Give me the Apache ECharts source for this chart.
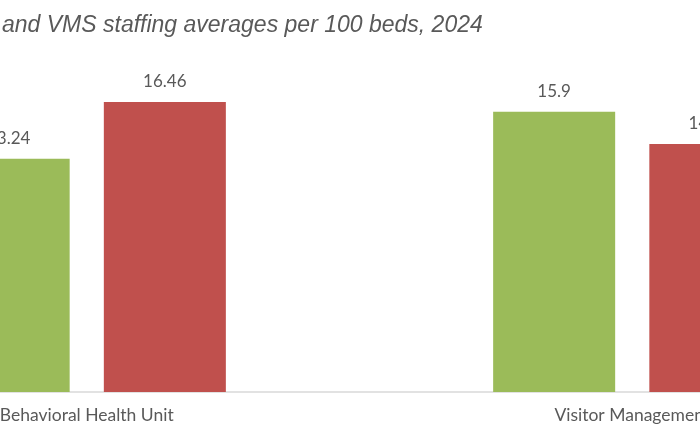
<!DOCTYPE html>
<html>
<head>
<meta charset="utf-8">
<script src="https://cdn.jsdelivr.net/npm/echarts@6/dist/echarts.min.js"></script>
<style>
html,body{margin:0;padding:0;width:700px;height:441px;overflow:hidden;background:#fff;position:relative;}
#c{position:absolute;left:-186px;top:0;width:1091px;height:441px;}
</style>
</head>
<body>
<div id="c"></div>
<script>
const titleText = "and VMS staffing averages per 100 beds, 2024";
const categories = ["Behavioral Health Unit", "Visitor Management"];
const seriesNames = ["Series 1", "Series 2"];
const greenValues = [13.24, 15.9];
const redValues = [16.46, 14.08];

const chart = echarts.init(document.getElementById('c'));
const labelStyle = {show: true, position: 'top', distance: 12, color: '#595959', fontFamily: 'Lato', fontSize: 17};
chart.setOption({
  animation: false,
  backgroundColor: '#fff',
  title: {
    text: titleText,
    left: 183,
    top: 9,
    textStyle: {fontFamily: 'Liberation Sans', fontStyle: 'italic', fontWeight: 'normal', fontSize: 23, color: '#595959'}
  },
  grid: {left: 0, right: 0, top: 39.6, bottom: 49, containLabel: false},
  xAxis: {
    type: 'category',
    data: categories,
    axisLine: {lineStyle: {color: '#d9d9d9', width: 1.5}},
    axisTick: {show: false},
    axisLabel: {color: '#595959', fontFamily: 'Lato', fontSize: 17.5, margin: 14}
  },
  yAxis: {
    type: 'value', min: 0, max: 20,
    show: false,
    splitLine: {show: false}
  },
  series: [
    {
      name: seriesNames[0], type: 'bar', data: greenValues,
      itemStyle: {color: '#9BBB59'},
      barGap: '28%', barCategoryGap: '49%',
      label: labelStyle
    },
    {
      name: seriesNames[1], type: 'bar', data: redValues,
      itemStyle: {color: '#C0504D'},
      barGap: '28%', barCategoryGap: '49%',
      label: labelStyle
    }
  ]
});
</script>
</body>
</html>
